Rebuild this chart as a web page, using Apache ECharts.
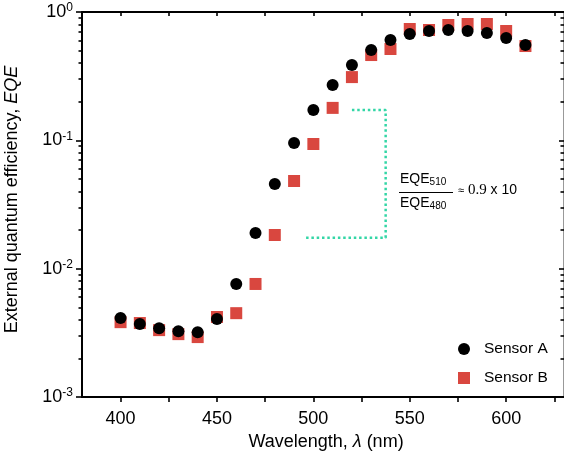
<!DOCTYPE html>
<html>
<head>
<meta charset="utf-8">
<script src="https://cdn.jsdelivr.net/npm/echarts@6/dist/echarts.min.js"></script>
<style>html,body{margin:0;padding:0;background:#fff;}#c{width:564px;height:457px;}</style>
</head>
<body>
<div id="c"></div>
<script>
const wavelengths = [400,410,420,430,440,450,460,470,480,490,500,510,520,530,540,550,560,570,580,590,600,610];
const sensorA = [0.00412,0.0037,0.00344,0.00326,0.0032,0.00405,0.0076,0.019,0.0456,0.0953,0.172,0.27,0.386,0.506,0.605,0.674,0.711,0.724,0.711,0.686,0.627,0.553];
const sensorB = [0.00383,0.00377,0.00332,0.00309,0.00293,0.0042,0.0045,0.0076,0.0183,0.0482,0.0936,0.179,0.311,0.462,0.515,0.737,0.724,0.792,0.806,0.806,0.711,0.543];
const xTickValues = [400,425,450,475,500,525,550,575,600,625];
const xLabelValues = [400,450,500,550,600];
const yMajorValues = [0.001,0.01,0.1,1];
const bracketX = [520,537.5,537.5,495];
const bracketY = [0.172,0.172,0.0174,0.0174];

const chart = echarts.init(document.getElementById('c'));
const pair = (xs, ys) => xs.map((x,i)=>[x, ys[i]]);
const FONT = 'Liberation Sans, Arial, Helvetica, sans-serif';
const black = '#000';
const red = '#d9473f';
const X_MIN = 380, X_MAX = 630, Y_MIN = 0.001, Y_MAX = 1;
const tickLine = {color:black, width:1.6};

const option = {
  backgroundColor:'#fff',
  animation:false,
  grid:{left:82, right:0, top:12, bottom:60, containLabel:false, outerBoundsMode:'none'},
  legend:{
    left:453, top:336, orient:'vertical', itemGap:13, itemWidth:12, itemHeight:12,
    textStyle:{fontFamily:FONT, fontSize:15.5, color:'#000', padding:[0,0,0,9]},
    data:[{name:'Sensor A', icon:'circle'},{name:'Sensor B', icon:'rect'}]
  },
  xAxis:[
    {type:'value', min:X_MIN, max:X_MAX, splitLine:{show:false},
      position:'bottom',
      name:'Wavelength, {i|λ} (nm)', nameLocation:'middle', nameGap:35,
      nameTextStyle:{fontFamily:FONT, fontSize:18, color:'#000', padding:[0,0,0,6],
        rich:{i:{fontFamily:FONT, fontSize:18, fontStyle:'italic', color:'#000'}}},
      axisLine:{lineStyle:{color:black, width:2}},
      axisTick:{show:true, inside:false, length:5, lineStyle:tickLine, customValues:xTickValues},
      axisLabel:{fontFamily:FONT, fontSize:18, color:'#000', margin:13, customValues:xLabelValues}
    },
    {type:'value', min:X_MIN, max:X_MAX, splitLine:{show:false},
      position:'top',
      axisLine:{show:true, lineStyle:{color:black, width:2}},
      axisTick:{show:true, inside:true, length:4, lineStyle:tickLine, customValues:xTickValues},
      axisLabel:{show:false}
    }
  ],
  yAxis:[
    {type:'log', logBase:10, min:Y_MIN, max:Y_MAX, splitLine:{show:false}, minorSplitLine:{show:false},
      position:'left',
      name:'External quantum efficiency, {i|EQE}', nameLocation:'middle', nameGap:61,
      nameTextStyle:{fontFamily:FONT, fontSize:18, color:'#000', padding:[0,0,0,10],
        rich:{i:{fontFamily:FONT, fontSize:18, fontStyle:'italic', color:'#000'}}},
      axisLine:{show:true, lineStyle:{color:black, width:2}},
      axisTick:{show:true, inside:false, length:6, lineStyle:tickLine},
      minorTick:{show:true, splitNumber:9, length:3.5, lineStyle:tickLine},
      axisLabel:{
        customValues:yMajorValues, margin:9,
        formatter:function(v){ const e = Math.round(Math.log10(v)); return '{b|10}{s|' + e + '}'; },
        rich:{
          b:{fontFamily:FONT, fontSize:18, color:'#000', lineHeight:20},
          s:{fontFamily:FONT, fontSize:12, color:'#000', verticalAlign:'top', lineHeight:14}
        }
      }
    },
    {type:'log', logBase:10, min:Y_MIN, max:Y_MAX, splitLine:{show:false}, minorSplitLine:{show:false},
      position:'right',
      axisLine:{show:true, lineStyle:{color:'#777', width:1.5}},
      axisTick:{show:true, inside:true, length:5, lineStyle:tickLine},
      minorTick:{show:true, splitNumber:9, length:3.5, lineStyle:tickLine},
      axisLabel:{show:false}
    }
  ],
  series:[
    {
      name:'bracket', type:'line', data:pair(bracketX, bracketY), symbol:'none', silent:true,
      lineStyle:{color:'#33d6a6', width:2.5, type:[2.5,2.8], cap:'butt'}, z:1
    },
    {
      name:'Sensor B', type:'scatter', data:pair(wavelengths, sensorB), symbol:'rect', symbolSize:12,
      itemStyle:{color:red, opacity:1}, z:2
    },
    {
      name:'Sensor A', type:'scatter', data:pair(wavelengths, sensorA), symbol:'circle', symbolSize:12,
      itemStyle:{color:black, opacity:1}, z:3
    }
  ],
  graphic:[
    {type:'text', left:400, top:172, style:{text:'EQE{s|510}', fontFamily:FONT, fontSize:14, fill:'#000',
      rich:{s:{fontFamily:FONT, fontSize:10, fill:'#000', verticalAlign:'bottom', padding:[6,0,0,0]}}}},
    {type:'rect', shape:{x:399, y:192, width:54, height:1}, style:{fill:'#000'}},
    {type:'text', left:400, top:196, style:{text:'EQE{s|480}', fontFamily:FONT, fontSize:14, fill:'#000',
      rich:{s:{fontFamily:FONT, fontSize:10, fill:'#000', verticalAlign:'bottom', padding:[6,0,0,0]}}}},
    {type:'text', left:458, top:183, style:{text:'{a|≈} {b|0.9} x 10', fontFamily:FONT, fontSize:14, fill:'#000',
      rich:{a:{fontFamily:FONT, fontSize:11, fill:'#000'}, b:{fontFamily:'Liberation Serif, Times New Roman, serif', fontSize:15, fill:'#000'}}}}
  ]
};
chart.setOption(option);
</script>
</body>
</html>
